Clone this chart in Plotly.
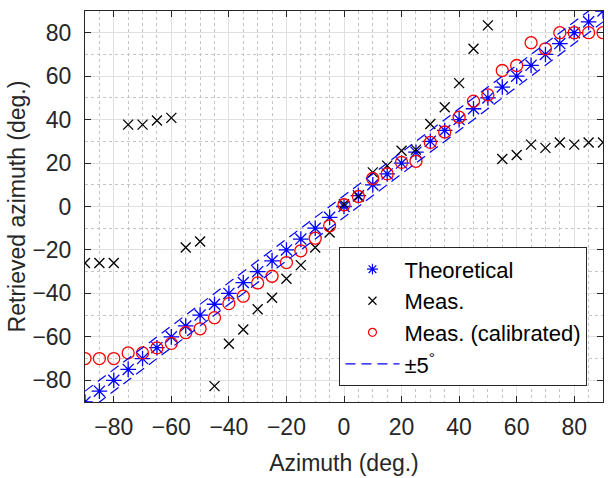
import plotly.graph_objects as go

azimuth = list(range(-90, 91, 5))
theoretical = list(range(-90, 91, 5))
meas = [-26, -26, -26, 37.7, 37.7, 39.6, 40.8, -18.9, -16.1, -82.7, -63.2, -56.6, -47.3,
        -42, -33.3, -27, -18.9, -12, 1, 4.6, 15.7, 18.8, 25.7, 26.2, 38, 45.7, 56.8,
        72.6, 83.4, 21.9, 23.7, 28.5, 27, 29.5, 28.5, 29.5, 29.5]
meas_cal = [-70, -70, -70, -67.4, -67.4, -65.1, -63, -58.1, -56.3, -51.2, -44.7, -41.3,
            -35.2, -32.1, -25.8, -20.4, -14.6, -8.9, 0.8, 4.6, 12.9, 15, 20.3, 20.8, 29.5,
            34.3, 41.1, 48.5, 51.4, 62.6, 64.9, 75.4, 72.6, 80, 80, 80, 80]
band_x = [-90, 90]
band_upper = [-85, 95]
band_lower = [-95, 85]
tick_vals = [-80, -60, -40, -20, 0, 20, 40, 60, 80]

FONT = "Liberation Sans, Arial, sans-serif"
TXT = "#262626"
BLUE = "#0000ff"
RED = "#ff0000"

series = [
    ("Theoretical", theoretical, "asterisk-open", 13, 9, BLUE, "a"),
    ("Meas.", meas, "x-thin-open", 10, 8, "black", "b"),
    ("Meas. (calibrated)", meas_cal, "circle-open", 12, 8, RED, "c"),
]

fig = go.Figure()
for name, ys, sym, size, lsize, col, grp in series:
    fig.add_trace(go.Scatter(x=azimuth, y=ys, mode="markers", name=name, showlegend=False,
                             marker=dict(symbol=sym, size=size, color=col,
                                         line=dict(color=col, width=1.3)),
                             legendgroup=grp))
    # legend-only entry with the smaller legend glyph
    fig.add_trace(go.Scatter(x=[None], y=[None], mode="markers", name=name,
                             marker=dict(symbol=sym, size=lsize, color=col,
                                         line=dict(color=col, width=1.2)),
                             legendgroup=grp))

fig.add_trace(go.Scatter(x=band_x, y=band_upper, mode="lines", name="±5<sup>°</sup>",
                         line=dict(color=BLUE, width=1.2, dash="10px,6px"),
                         legendgroup="d"))
fig.add_trace(go.Scatter(x=band_x, y=band_lower, mode="lines", showlegend=False,
                         line=dict(color=BLUE, width=1.2, dash="10px,6px"),
                         legendgroup="d"))

axis_common = dict(
    showline=True, linecolor=TXT, linewidth=1, mirror="ticks",
    ticks="inside", ticklen=6, tickcolor=TXT,
    showgrid=True, gridcolor="#e0e0e0", gridwidth=1,
    zeroline=False, tickvals=tick_vals,
    tickfont=dict(family=FONT, size=23, color=TXT),
)

fig.update_xaxes(range=[-90, 90], **axis_common,
                 minor=dict(dtick=5, tick0=0, showgrid=True, gridcolor="#c4c4c4",
                            griddash="dot", gridwidth=1, ticks=""),
                 ticklabelstandoff=4,
                 title=dict(text="Azimuth (deg.)", font=dict(family=FONT, size=23, color=TXT),
                            standoff=16))
fig.update_yaxes(range=[-90, 90], **axis_common,
                 minor=dict(dtick=10, tick0=0, showgrid=True, gridcolor="#c4c4c4",
                            griddash="dot", gridwidth=1, ticks=""),
                 ticklabelstandoff=8,
                 title=dict(text="Retrieved azimuth (deg.)", font=dict(family=FONT, size=23, color=TXT),
                            standoff=0))

fig.update_layout(
    width=608, height=478,
    margin=dict(l=85, r=5, t=11, b=76),
    paper_bgcolor="white", plot_bgcolor="white",
    showlegend=True,
    legend=dict(x=0.97, y=0.04, xanchor="right", yanchor="bottom",
                bgcolor="white", bordercolor=TXT, borderwidth=1,
                font=dict(family=FONT, size=22, color="black"),
                tracegroupgap=0, itemwidth=54),
)

fig.write_html("out.html")
